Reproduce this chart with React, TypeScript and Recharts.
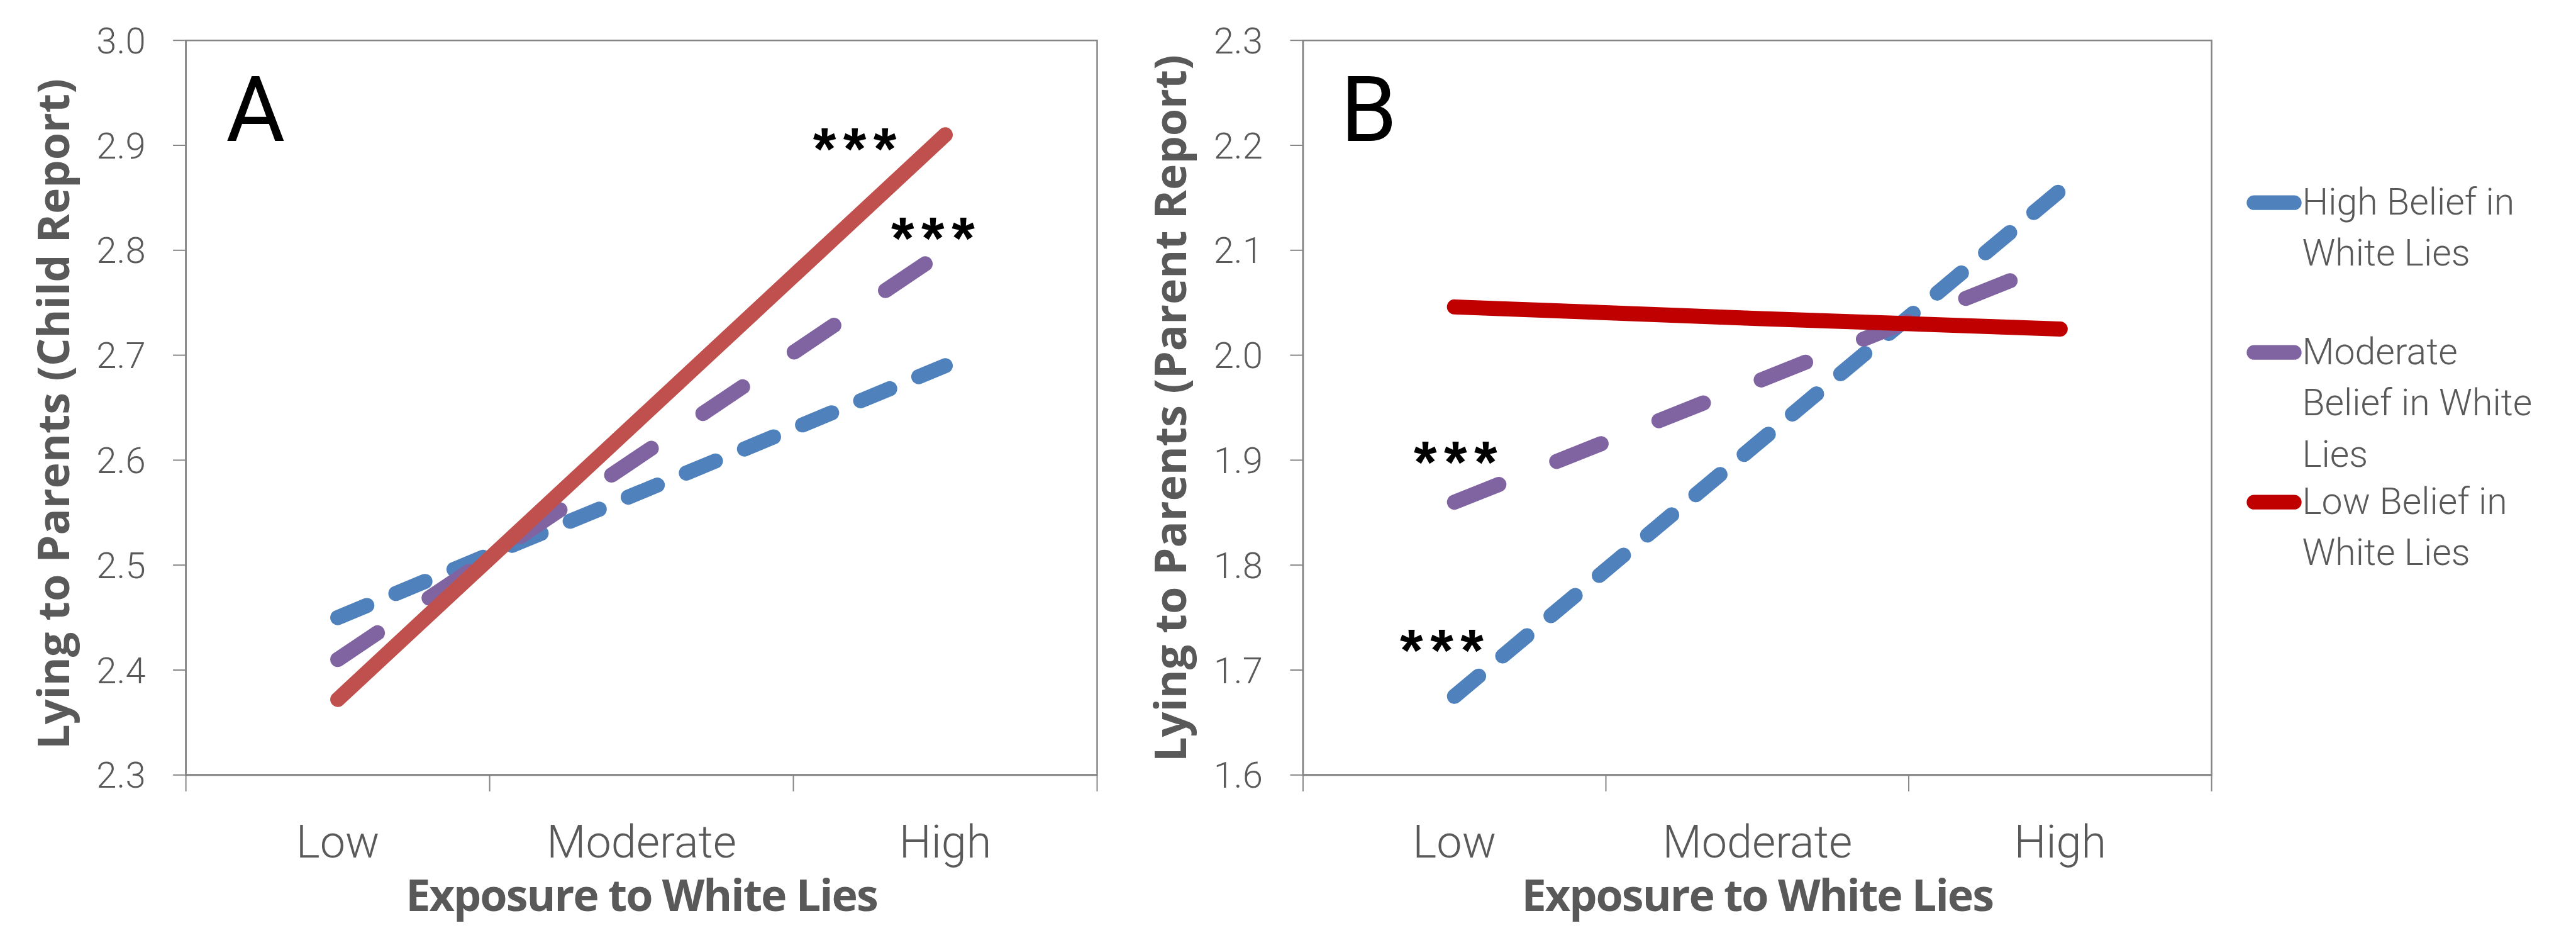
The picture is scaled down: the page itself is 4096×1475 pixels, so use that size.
import React from 'react';
import { LineChart, Line, XAxis, YAxis, ReferenceArea, Legend, Label } from 'recharts';

// ---------- data ----------
const categories = ['Low', 'Moderate', 'High'];
const seriesKeys = ['high', 'moderate', 'low'];
const seriesNames = ['High Belief in White Lies', 'Moderate Belief in White Lies', 'Low Belief in White Lies'];
const legendLines = [
  ['High Belief in', 'White Lies'],
  ['Moderate', 'Belief in White', 'Lies'],
  ['Low Belief in', 'White Lies'],
];

// Panel A: Lying to Parents (Child Report)
const childHigh = [2.45, 2.57, 2.69];
const childModerate = [2.41, 2.605, 2.8];
const childLow = [2.372, 2.641, 2.91];
const childTicks = [2.3, 2.4, 2.5, 2.6, 2.7, 2.8, 2.9, 3.0];

// Panel B: Lying to Parents (Parent Report)
const parentHigh = [1.675, 1.916, 2.157];
const parentModerate = [1.86, 1.975, 2.09];
const parentLow = [2.046, 2.035, 2.025];
const parentTicks = [1.6, 1.7, 1.8, 1.9, 2.0, 2.1, 2.2, 2.3];

// significance markers: series and category index
const starsA = [
  { key: 'low', index: 2 },
  { key: 'moderate', index: 2 },
];
const starsB = [
  { key: 'moderate', index: 0 },
  { key: 'high', index: 0 },
];

// ---------- styles ----------
const AXIS = '#868686';
const TEXT = '#595959';
const LIGHT_FONT = 'Roboto, "Liberation Sans", sans-serif';
const BOLD_FONT = '"Open Sans", "Liberation Sans", sans-serif';

const xTicks = [0, 0.5, 1, 1.5, 2, 2.5, 3];

const buildData = (high: number[], moderate: number[], low: number[]) =>
  categories.map((c, i) => ({ category: c, pos: i + 0.5, high: high[i], moderate: moderate[i], low: low[i] }));

const dataA = buildData(childHigh, childModerate, childLow);
const dataB = buildData(parentHigh, parentModerate, parentLow);

const starOffsets: Record<string, { dx: number; dy: number }> = {
  'A-low-2': { dx: -144, dy: 1 },
  'A-moderate-2': { dx: -19.6, dy: -40.6 },
  'B-moderate-0': { dx: 1.6, dy: -85.2 },
  'B-high-0': { dx: -20.2, dy: -94.1 },
};

const STAR_SIZE = 94;
const STAR_SPACING = 11.5;

const XTick = (props: any) => {
  const { x, y, payload } = props;
  const v = payload.value;
  if (Number.isInteger(v)) {
    return <line x1={x} x2={x} y1={y} y2={y + 26} stroke={AXIS} strokeWidth={2} />;
  }
  return (
    <text x={x} y={y + 131} textAnchor="middle" fill={TEXT} fontSize={72} fontFamily={LIGHT_FONT} fontWeight={300}>
      {categories[Math.floor(v)]}
    </text>
  );
};

const renderLegend = (props: any) => {
  const payload = props.payload || [];
  return (
    <svg width={536} height={1000} style={{ display: 'block', overflow: 'visible' }}>
      {seriesNames.map((name, i) => {
        const entry = payload.find((e: any) => e.value === name);
        const color = entry ? entry.color : '#000';
        const base = 340.7 + i * 238;
        const lines = legendLines[i];
        return (
          <g key={name}>
            <line x1={24} x2={88} y1={base - 18.5} y2={base - 18.5} stroke={color} strokeWidth={23.3} strokeLinecap="round" />
            {lines.map((t: string, j: number) => (
              <text key={j} x={100.4} y={base + j * 81.7} fill={TEXT} fontSize={59} fontFamily={LIGHT_FONT} fontWeight={300}>
                {t}
              </text>
            ))}
          </g>
        );
      })}
    </svg>
  );
};

type PanelProps = {
  id: string;
  data: any[];
  yTicks: number[];
  yLabel: string;
  yLabelDy: number;
  letter: string;
  letterDx: number;
  colors: string[];
  width: number;
  marginRight: number;
  yAxisWidth: number;
  stars: { key: string; index: number }[];
  legend?: boolean;
};

const HEIGHT = 1475;
const MARGIN_TOP = 64.2;
const X_AXIS_HEIGHT = 243.2;

const dashes: Record<string, string | undefined> = {
  high: '50 50',
  moderate: '76 99',
  low: undefined,
};

const Panel = (p: PanelProps) => {
  const yMin = p.yTicks[0];
  const yMax = p.yTicks[p.yTicks.length - 1];

  const makeDot = (key: string) => (dp: any) => {
    const { cx, cy, index } = dp;
    const match = p.stars.find((s) => s.key === key && s.index === index);
    if (!match || cx == null || cy == null) return <g key={`d-${key}-${index}`} />;
    const off = starOffsets[`${p.id}-${key}-${index}`] || { dx: 0, dy: 0 };
    return (
      <text
        key={`d-${key}-${index}`}
        x={cx + off.dx + STAR_SPACING / 2}
        y={cy + off.dy + STAR_SIZE * 0.57}
        textAnchor="middle"
        fill="#000000"
        fontSize={STAR_SIZE}
        fontWeight="bold"
        letterSpacing={STAR_SPACING}
        fontFamily='"Liberation Sans", Arial, sans-serif'
      >
        ***
      </text>
    );
  };

  return (
    <LineChart
      width={p.width}
      height={HEIGHT}
      data={p.data}
      margin={{ top: MARGIN_TOP, right: p.marginRight, bottom: 0, left: 0 }}
    >
      <ReferenceArea
        x1={0}
        x2={3}
        y1={yMin}
        y2={yMax}
        fill="none"
        fillOpacity={0}
        stroke={AXIS}
        strokeWidth={2.5}
        ifOverflow="visible"
        label={(lp: any) => {
          const vb = lp.viewBox || {};
          return (
            <text x={vb.x + p.letterDx} y={vb.y + 159.8} fill="#000" fontSize={144} fontFamily={LIGHT_FONT} fontWeight={400}>
              {p.letter}
            </text>
          );
        }}
      />
      <XAxis
        type="number"
        dataKey="pos"
        domain={[0, 3]}
        ticks={xTicks}
        interval={0}
        height={X_AXIS_HEIGHT}
        tickSize={0}
        tickMargin={0}
        tickLine={false}
        axisLine={{ stroke: AXIS, strokeWidth: 3 }}
        tick={XTick}
        allowDataOverflow
      >
        <Label
          content={(lp: any) => {
            const vb = lp.viewBox || {};
            return (
              <text
                x={vb.x + vb.width / 2}
                y={vb.y + 216}
                textAnchor="middle"
                fill={TEXT}
                fontSize={70}
                fontWeight="bold"
                letterSpacing={-2}
                fontFamily={BOLD_FONT}
              >
                Exposure to White Lies
              </text>
            );
          }}
        />
      </XAxis>
      <YAxis
        type="number"
        domain={[yMin, yMax]}
        ticks={p.yTicks}
        interval={0}
        width={p.yAxisWidth}
        tickSize={20.5}
        tickMargin={43.5}
        tickLine={{ stroke: AXIS, strokeWidth: 2 }}
        axisLine={{ stroke: AXIS, strokeWidth: 2.5 }}
        tick={{ fill: TEXT, fontSize: 58, fontFamily: LIGHT_FONT, fontWeight: 300 }}
        tickFormatter={(v: number) => v.toFixed(1)}
        allowDataOverflow
      >
        <Label
          content={(lp: any) => {
            const vb = lp.viewBox || {};
            const bx = vb.x + vb.width - 186.1;
            const cy = vb.y + vb.height / 2 + p.yLabelDy;
            return (
              <text
                x={bx}
                y={cy}
                transform={`rotate(-90 ${bx} ${cy})`}
                textAnchor="middle"
                fill={TEXT}
                fontSize={70}
                fontWeight="bold"
                fontFamily={BOLD_FONT}
              >
                {p.yLabel}
              </text>
            );
          }}
        />
      </YAxis>
      {seriesKeys.map((k, i) => (
        <Line
          key={k}
          type="linear"
          dataKey={k}
          name={seriesNames[i]}
          stroke={p.colors[i]}
          strokeWidth={24}
          strokeDasharray={dashes[k]}
          strokeLinecap="round"
          dot={makeDot(k)}
          activeDot={false}
          isAnimationActive={false}
        />
      ))}
      {p.legend && (
        <Legend
          layout="horizontal"
          verticalAlign="middle"
          align="center"
          content={renderLegend}
          wrapperStyle={{ left: 1760, top: 0, right: 'auto', bottom: 'auto', width: 536, height: 1000 }}
        />
      )}
    </LineChart>
  );
};

export default function App() {
  return (
    <div style={{ position: 'absolute', left: 0, top: 0, width: 4096, height: 1475, background: '#ffffff', overflow: 'hidden' }}>
      <div style={{ position: 'absolute', left: 0, top: 0 }}>
        <Panel
          id="A"
          data={dataA}
          yTicks={childTicks}
          yLabel="Lying to Parents (Child Report)"
          yLabelDy={10}
          letter="A"
          letterDx={63.7}
          colors={['#4F81BD', '#8064A2', '#C0504D']}
          width={1800}
          marginRight={55.5}
          yAxisWidth={295.6}
          stars={starsA}
        />
      </div>
      <div style={{ position: 'absolute', left: 1800, top: 0 }}>
        <Panel
          id="B"
          data={dataB}
          yTicks={parentTicks}
          yLabel="Lying to Parents (Parent Report)"
          yLabelDy={1}
          letter="B"
          letterDx={59.6}
          colors={['#4F81BD', '#8064A2', '#C00000']}
          width={2296}
          marginRight={579.4}
          yAxisWidth={271.9}
          stars={starsB}
          legend
        />
      </div>
    </div>
  );
}
